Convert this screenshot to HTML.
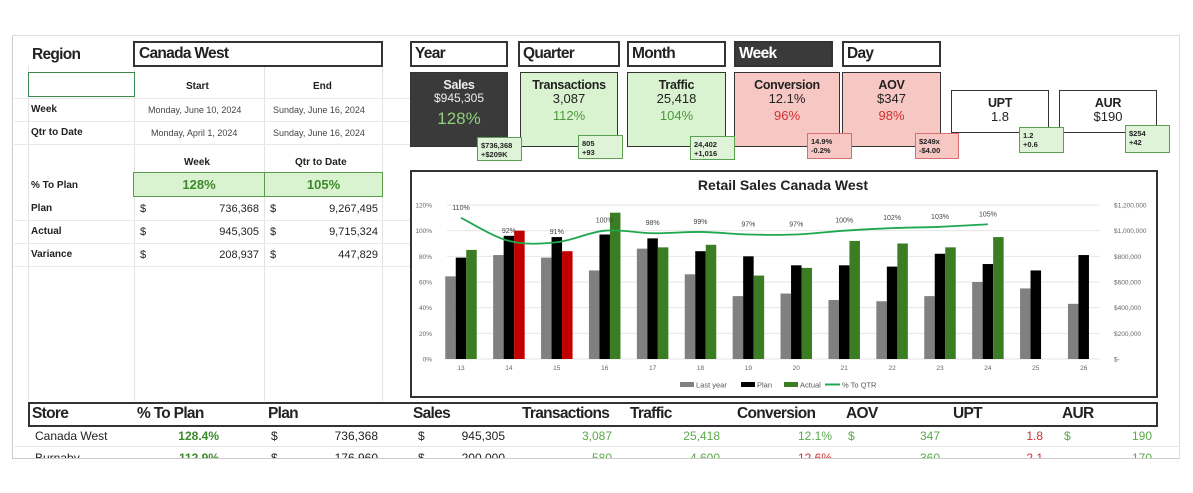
<!DOCTYPE html>
<html><head><meta charset="utf-8">
<style>
*{box-sizing:border-box;margin:0;padding:0}
body{width:1193px;height:493px;background:#fff;position:relative;overflow:hidden;font-family:"Liberation Sans",sans-serif;color:#222}
.a{position:absolute;white-space:nowrap}
.box{position:absolute;border:2px solid #333;background:#fff}
.hdr{font-size:15.5px;font-weight:bold;letter-spacing:-0.7px}
.card{position:absolute;border:1.5px solid #333;text-align:center;font-size:13px;line-height:1.15}
.card b{display:block;font-size:12.5px;margin-top:5px;letter-spacing:-0.3px}
.sub{position:absolute;border:1px solid #5aa050;background:#dff3d8;font-size:7.5px;font-weight:bold;padding:3px 3px;line-height:13px}
.pink{background:#f7c7c4;border-color:#d67070}
.lbl{font-size:10px;font-weight:bold}
.dt{font-size:9px;color:#444}
.num{font-size:11px}
.vl{position:absolute;width:1px;background:#e3e3e3}
.hl{position:absolute;height:1px;background:#e8e8e8}
</style></head><body>
<div style="position:absolute;left:12px;top:35px;width:1168px;height:423px;border-left:1px solid #ccc;border-right:1px solid #ddd;border-top:1px solid #ddd;overflow:hidden">
</div>
<div class="vl" style="left:28px;top:66px;height:335px"></div>
<div class="vl" style="left:134px;top:66px;height:335px"></div>
<div class="vl" style="left:264px;top:66px;height:335px"></div>
<div class="vl" style="left:382px;top:66px;height:335px"></div>
<div class="hl" style="left:14px;top:98px;width:396px"></div>
<div class="hl" style="left:14px;top:121px;width:396px"></div>
<div class="hl" style="left:14px;top:144px;width:396px"></div>
<div class="hl" style="left:14px;top:220px;width:396px"></div>
<div class="hl" style="left:14px;top:243px;width:396px"></div>
<div class="hl" style="left:14px;top:266px;width:396px"></div>
<div class="hl" style="left:14px;top:446px;width:1166px"></div>

<div class="a hdr" style="left:32px;top:46px">Region</div>
<div class="box hdr" style="left:133px;top:41px;width:250px;height:26px;padding:2px 4px">Canada West</div>
<div class="a" style="left:28px;top:72px;width:107px;height:25px;border:1.5px solid #3c8a50"></div>
<div class="a lbl" style="left:186px;top:81px">Start</div>
<div class="a lbl" style="left:313px;top:81px">End</div>
<div class="a lbl" style="left:31px;top:104px">Week</div>
<div class="a dt" style="left:148px;top:105px">Monday, June 10, 2024</div>
<div class="a dt" style="left:273px;top:105px">Sunday, June 16, 2024</div>
<div class="a lbl" style="left:31px;top:127px">Qtr to Date</div>
<div class="a dt" style="left:151px;top:128px">Monday, April 1, 2024</div>
<div class="a dt" style="left:273px;top:128px">Sunday, June 16, 2024</div>
<div class="a lbl" style="left:184px;top:157px">Week</div>
<div class="a lbl" style="left:295px;top:157px">Qtr to Date</div>
<div class="a lbl" style="left:31px;top:180px">% To Plan</div>
<div class="a" style="left:133px;top:172px;width:132px;height:25px;background:#d9f2d0;border:1px solid #5a9a4a;color:#3d8a2a;font-weight:bold;font-size:13px;text-align:center;line-height:23px">128%</div>
<div class="a" style="left:264px;top:172px;width:119px;height:25px;background:#d9f2d0;border:1px solid #5a9a4a;color:#3d8a2a;font-weight:bold;font-size:13px;text-align:center;line-height:23px">105%</div>
<div class="a lbl" style="left:31px;top:203px">Plan</div>
<div class="a lbl" style="left:31px;top:226px">Actual</div>
<div class="a lbl" style="left:31px;top:249px">Variance</div>
<div class="a num" style="left:140px;top:203px">$</div><div class="a num" style="left:270px;top:203px">$</div>
<div class="a num" style="left:140px;top:226px">$</div><div class="a num" style="left:270px;top:226px">$</div>
<div class="a num" style="left:140px;top:249px">$</div><div class="a num" style="left:270px;top:249px">$</div>
<div class="a num" style="right:934px;top:203px">736,368</div>
<div class="a num" style="right:815px;top:203px">9,267,495</div>
<div class="a num" style="right:934px;top:226px">945,305</div>
<div class="a num" style="right:815px;top:226px">9,715,324</div>
<div class="a num" style="right:934px;top:249px">208,937</div>
<div class="a num" style="right:815px;top:249px">447,829</div>

<div class="box hdr" style="left:410px;top:41px;width:98px;height:26px;padding:2px 3px">Year</div>
<div class="box hdr" style="left:518px;top:41px;width:102px;height:26px;padding:2px 3px">Quarter</div>
<div class="box hdr" style="left:627px;top:41px;width:99px;height:26px;padding:2px 3px">Month</div>
<div class="box hdr" style="left:734px;top:41px;width:99px;height:26px;padding:2px 3px;background:#3a3a3a;color:#fff">Week</div>
<div class="box hdr" style="left:842px;top:41px;width:99px;height:26px;padding:2px 3px">Day</div>

<div class="card" style="left:410px;top:72px;width:98px;height:75px;background:#3a3a3a;color:#eee"><b>Sales</b><div style="font-size:12px">$945,305</div><div style="font-size:17px;color:#8fd07a;margin-top:3px">128%</div></div>
<div class="card" style="left:520px;top:72px;width:98px;height:75px;background:#d9f2d0"><b>Transactions</b><div>3,087</div><div style="color:#4a9a3a;margin-top:2px">112%</div></div>
<div class="card" style="left:627px;top:72px;width:99px;height:75px;background:#d9f2d0"><b>Traffic</b><div>25,418</div><div style="color:#4a9a3a;margin-top:2px">104%</div></div>
<div class="card" style="left:734px;top:72px;width:106px;height:75px;background:#f7c7c4"><b>Conversion</b><div>12.1%</div><div style="color:#d03030;margin-top:2px">96%</div></div>
<div class="card" style="left:842px;top:72px;width:99px;height:75px;background:#f7c7c4"><b>AOV</b><div>$347</div><div style="color:#d03030;margin-top:2px">98%</div></div>
<div class="card" style="left:951px;top:90px;width:98px;height:43px;background:#fff"><b>UPT</b><div>1.8</div></div>
<div class="card" style="left:1059px;top:90px;width:98px;height:43px;background:#fff"><b>AUR</b><div>$190</div></div>
<div class="sub" style="left:477px;top:137px;width:45px;height:24px;line-height:9px">$736,368<br>+$209K</div>
<div class="sub" style="left:578px;top:135px;width:45px;height:24px;line-height:9px">805<br>+93</div>
<div class="sub" style="left:690px;top:136px;width:45px;height:24px;line-height:9px">24,402<br>+1,016</div>
<div class="sub pink" style="left:807px;top:133px;width:45px;height:26px;line-height:9px">14.9%<br>-0.2%</div>
<div class="sub pink" style="left:915px;top:133px;width:44px;height:26px;line-height:9px">$249x<br>-$4.00</div>
<div class="sub" style="left:1019px;top:127px;width:45px;height:26px;line-height:9px">1.2<br>+0.6</div>
<div class="sub" style="left:1125px;top:125px;width:45px;height:28px;line-height:9px">$254<br>+42</div>

<div class="a" style="left:410px;top:170px;width:748px;height:228px;border:2px solid #333;background:#fff"></div>
<svg id="chart" width="1193" height="493" style="position:absolute;left:0;top:0"></svg>

<div class="box" style="left:28px;top:402px;width:1130px;height:25px"></div>
<div class="a hdr" style="left:32px;top:405px">Store</div>
<div class="a hdr" style="left:137px;top:405px">% To Plan</div>
<div class="a hdr" style="left:268px;top:405px">Plan</div>
<div class="a hdr" style="left:413px;top:405px">Sales</div>
<div class="a hdr" style="left:522px;top:405px">Transactions</div>
<div class="a hdr" style="left:630px;top:405px">Traffic</div>
<div class="a hdr" style="left:737px;top:405px">Conversion</div>
<div class="a hdr" style="left:846px;top:405px">AOV</div>
<div class="a hdr" style="left:953px;top:405px">UPT</div>
<div class="a hdr" style="left:1062px;top:405px">AUR</div>
<div style="position:absolute;left:0;top:429px;width:1193px;height:16px;font-size:12px">
<span class="a" style="left:35px">Canada West</span>
<span class="a" style="right:974px;color:#3d8a2a;font-weight:bold">128.4%</span>
<span class="a" style="left:271px">$</span><span class="a" style="right:815px">736,368</span>
<span class="a" style="left:418px">$</span><span class="a" style="right:688px">945,305</span>
<span class="a" style="right:581px;color:#5aaa48">3,087</span>
<span class="a" style="right:473px;color:#5aaa48">25,418</span>
<span class="a" style="right:361px;color:#5aaa48">12.1%</span>
<span class="a" style="left:848px;color:#5aaa48">$</span><span class="a" style="right:253px;color:#5aaa48">347</span>
<span class="a" style="right:150px;color:#d03030">1.8</span>
<span class="a" style="left:1064px;color:#5aaa48">$</span><span class="a" style="right:41px;color:#5aaa48">190</span>
</div>
<div style="position:absolute;left:0;top:448px;width:1193px;height:10px;overflow:hidden;font-size:12px">
<span class="a" style="left:35px;top:3px">Burnaby</span>
<span class="a" style="right:974px;top:3px;color:#3d8a2a;font-weight:bold">112.9%</span>
<span class="a" style="left:271px;top:3px">$</span><span class="a" style="right:815px;top:3px">176,960</span>
<span class="a" style="left:418px;top:3px">$</span><span class="a" style="right:688px;top:3px">200,000</span>
<span class="a" style="right:581px;top:3px;color:#5aaa48">580</span>
<span class="a" style="right:473px;top:3px;color:#5aaa48">4,600</span>
<span class="a" style="right:361px;top:3px;color:#d03030">12.6%</span>
<span class="a" style="right:253px;top:3px;color:#5aaa48">360</span>
<span class="a" style="right:150px;top:3px;color:#d03030">2.1</span>
<span class="a" style="right:41px;top:3px;color:#5aaa48">170</span>
</div>
<div class="hl" style="left:12px;top:458px;width:1168px;background:#ccc"></div>

<script>
const weeks = [13,14,15,16,17,18,19,20,21,22,23,24,25,26];
const lastYear = [644000,810000,790000,690000,860000,660000,490000,510000,460000,450000,490000,600000,550000,430000];
const plan = [790000,960000,950000,970000,940000,840000,800000,730000,730000,720000,820000,740000,690000,810000];
const actual = [850000,1000000,840000,1140000,870000,890000,650000,710000,920000,900000,870000,950000,null,null];
const actualColors = ['g','r','r','g','g','g','g','g','g','g','g','g','g','g'];
const pctToQtr = [110,92,91,100,98,99,97,97,100,102,103,105];
const leftTicks = ['0%','20%','40%','60%','80%','100%','120%'];
const rightTicks = ['$-','$200,000','$400,000','$600,000','$800,000','$1,000,000','$1,200,000'];

const svg = document.getElementById('chart');
const NS = 'http://www.w3.org/2000/svg';
const X0 = 461, DX = 47.9, Y0 = 359, H = 154;
const xPos = i => X0 + i*DX;
const yMoney = v => Y0 - v/1200000*H;
const yPct = p => Y0 - p/120*H;
const BW = 10.5;
function mk(tag, attrs, parent){const e=document.createElementNS(NS,tag);for(const k in attrs)e.setAttribute(k,attrs[k]);(parent||svg).appendChild(e);return e;}

const title = mk('text',{x:783,y:190,'text-anchor':'middle','font-size':14,'font-weight':'bold',fill:'#222','font-family':'Liberation Sans'});
title.textContent='Retail Sales Canada West';



leftTicks.forEach((t,i)=>{
  const y = yPct(i*20);
  const gl = mk('line',{x1:447,x2:1100,y1:y,y2:y,stroke:'#e6e6e6','stroke-width':1});
  
  
  const lt = mk('text',{x:432,y:y+2.5,'text-anchor':'end','font-size':6.5,fill:'#666','font-family':'Liberation Sans'});
  lt.textContent=t;
  
  
  const rt = mk('text',{x:1114,y:y+2.5,'font-size':6.5,fill:'#666','font-family':'Liberation Sans'});
  rt.textContent=rightTicks[i];
  
  
});

weeks.forEach((w,i)=>{
  const cx = xPos(i);
  const g = mk('rect',{x:cx-BW*1.5,y:yMoney(lastYear[i]),width:BW,height:Y0-yMoney(lastYear[i]),fill:'#808080'});
  
  
  const p = mk('rect',{x:cx-BW*0.5,y:yMoney(plan[i]),width:BW,height:Y0-yMoney(plan[i]),fill:'#000'});
  
  
  if(actual[i]!=null){
    const a = mk('rect',{x:cx+BW*0.5,y:yMoney(actual[i]),width:BW,height:Y0-yMoney(actual[i]),fill:actualColors[i]==='r'?'#c00000':'#3a7d22'});
    
    
  }
  const xt = mk('text',{x:cx,y:370,'text-anchor':'middle','font-size':6.5,fill:'#666','font-family':'Liberation Sans'});
  xt.textContent=w;
  
  
});

const pts = pctToQtr.map((v,i)=>[xPos(i),yPct(v)]);
let d = 'M'+pts[0][0]+','+pts[0][1];
for(let i=0;i<pts.length-1;i++){
  const p0=pts[Math.max(0,i-1)],p1=pts[i],p2=pts[i+1],p3=pts[Math.min(pts.length-1,i+2)];
  const c1=[p1[0]+(p2[0]-p0[0])/6,p1[1]+(p2[1]-p0[1])/6];
  const c2=[p2[0]-(p3[0]-p1[0])/6,p2[1]-(p3[1]-p1[1])/6];
  d+=` C${c1[0]},${c1[1]} ${c2[0]},${c2[1]} ${p2[0]},${p2[1]}`;
}
const line = mk('path',{d:d,fill:'none',stroke:'#1fa84f','stroke-width':1.8});


pctToQtr.forEach((v,i)=>{
  const t = mk('text',{x:xPos(i),y:yPct(v)-8,'text-anchor':'middle','font-size':7,fill:'#444','font-family':'Liberation Sans'});
  t.textContent=v+'%';
  
  
});

const leg = [['Last year','#808080',680],['Plan','#000',741],['Actual','#3a7d22',784]];
leg.forEach(l=>{
  const r = mk('rect',{x:l[2],y:382,width:14,height:5,fill:l[1]});
  
  
  const t = mk('text',{x:l[2]+16,y:387.5,'font-size':7.5,fill:'#555','font-family':'Liberation Sans'});
  t.textContent=l[0];
  
  
});
const ll = mk('line',{x1:825,x2:840,y1:384.5,y2:384.5,stroke:'#1fa84f','stroke-width':2});


const lt2 = mk('text',{x:842,y:387.5,'font-size':7.5,fill:'#555','font-family':'Liberation Sans'});
lt2.textContent='% To QTR';


</script>
</body></html>
